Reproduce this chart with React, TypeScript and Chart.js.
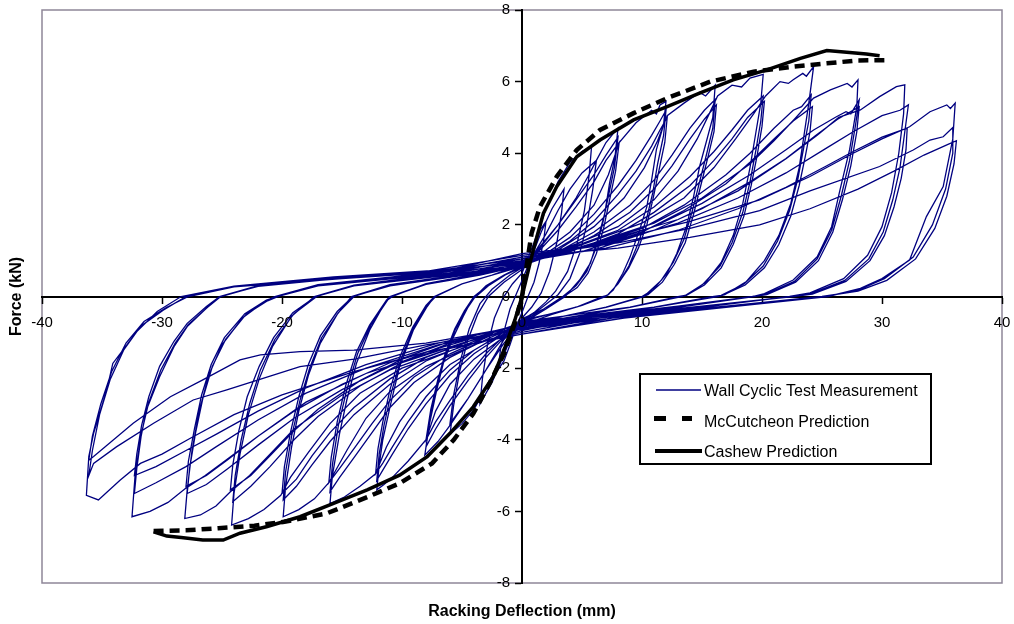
import React, { useEffect, useRef } from "react";
import { Chart, registerables } from "chart.js";

Chart.register(...registerables);

type Pt = [number, number];

// ---- axis ticks ----
const xTickValues = [-40, -30, -20, -10, 0, 10, 20, 30, 40];
const yTickValues = [-8, -6, -4, -2, 0, 2, 4, 6, 8];

const legendLabels = ["Wall Cyclic Test Measurement", "McCutcheon Prediction", "Cashew Prediction"];
const xTitle = "Racking Deflection (mm)";
const yTitle = "Force (kN)";

// ---- Wall cyclic test measurement (deflection mm, force kN), grouped by amplitude ----
const wallLoop02: Pt[] = [[0,0],[0.5,0.75],[1,1.35],[1.5,1.85],[2,2.1],[1.8,1.55],[1.4,0.9],[1,0.4],[0.5,0],[0,-0.45],[-0.5,-0.85],[-1,-1.35],[-1.5,-1.8],[-2,-2.05],[-1.8,-1.5],[-1.4,-0.85],[-1,-0.35],[-0.5,0.05],[0,0.45]];

const wallLoop04: Pt[] = [[0.8,1.1],[1.6,1.8],[2.5,2.45],[3.5,3.0],[3.3,2.35],[2.9,1.5],[2.3,0.7],[1.6,0.1],[0.8,-0.3],[0,-0.6],[-0.8,-1.05],[-1.6,-1.7],[-2.5,-2.4],[-3.5,-3.0],[-3.3,-2.3],[-2.9,-1.4],[-2.3,-0.6],[-1.6,-0.05],[-0.8,0.35],[0,0.65]];

const wallLoop06: Pt[] = [
  [1,1.5],[2,2.45],[3,3.2],[4,3.75],[5,4.05],[5.8,4.2],[5.6,3.4],[5.2,2.4],[4.6,1.5],[3.8,0.7],[2.8,0.15],[2,-0.15],[1,-0.45],[0,-0.7],[-1,-1.2],[-2,-1.9],[-3,-2.55],[-4,-3.15],[-5,-3.55],[-6,-3.85],[-5.7,-3.05],[-5.2,-2.1],[-4.5,-1.2],[-3.7,-0.5],[-2.8,0],[-1.5,0.4],[0,0.75],
  [1,1.2],[2,1.75],[3,2.4],[4,3.0],[5,3.45],[6.2,3.8],[5.9,3.0],[5.4,2.0],[4.8,1.2],[4,0.5],[3,0.05],[1.5,-0.35],[0,-0.65],[-1.5,-1.2],[-3,-2.05],[-4.5,-2.85],[-6,-3.55],[-5.7,-2.75],[-5.1,-1.75],[-4.4,-0.9],[-3.5,-0.2],[-2.5,0.2],[-1,0.6],[0,0.8],
];

const wallLoop08: Pt[] = [
  [1.5,1.35],[3,2.0],[4.5,2.75],[5.5,3.35],[6.2,3.8],[7,4.3],[7.6,4.55],[8,4.7],[7.75,3.9],[7.3,3.17],[6.9,2.33],[6.3,1.58],[5.7,0.93],[4.8,0.46],[3.6,0],[2,-0.35],[0,-0.75],[-1.5,-1.3],[-3,-2.05],[-4.5,-2.85],[-6,-3.6],[-7,-4.05],[-8.1,-4.43],[-7.7,-3.54],[-7.1,-2.6],[-6.56,-1.87],[-5.7,-1.12],[-4.9,-0.56],[-4.2,-0.1],[-3,0.3],[-1.5,0.6],[0,0.85],
  [1.5,1.4],[3,2.0],[4.5,2.7],[6,3.4],[7,3.95],[8,4.45],[7.7,3.6],[7.2,2.8],[6.7,2.0],[6.1,1.3],[5.4,0.7],[4.5,0.3],[3.4,0],[1.8,-0.35],[0,-0.7],[-1.5,-1.15],[-3,-1.7],[-4.5,-2.35],[-6,-3.05],[-7.2,-3.7],[-8,-4.2],[-7.6,-3.3],[-7,-2.4],[-6.4,-1.65],[-5.6,-0.95],[-4.8,-0.45],[-4,-0.05],[-2.8,0.3],[-1.4,0.6],[0,0.82],
  [1.5,1.3],[3,1.85],[4.5,2.5],[6,3.2],[7,3.8],[8.1,4.3],[7.8,3.5],[7.3,2.7],[6.8,1.9],[6.2,1.2],[5.5,0.65],[4.6,0.25],[3.5,0],[1.8,-0.35],[0,-0.62],[-1.5,-1.1],[-3,-1.6],[-4.5,-2.2],[-6,-2.9],[-7.2,-3.5],[-8,-4.0],[-7.6,-3.15],[-7,-2.3],[-6.4,-1.6],[-5.6,-0.9],[-4.8,-0.4],[-4,0],[-2.8,0.32],[-1.4,0.6],[0,0.85],
];

const wallLoop12: Pt[] = [
  [2,1.3],[4,1.8],[6,2.55],[7.2,3.4],[8.1,4.3],[9.5,4.85],[10.8,5.2],[11.2,5.1],[11.5,5.35],[12,5.45],[11.8,4.8],[11.2,4.1],[10.8,3.25],[10.4,2.5],[9.8,1.86],[9,1.1],[8.4,0.65],[7.6,0.18],[7,0],[5,-0.25],[2.5,-0.5],[0,-0.8],[-2,-1.25],[-4,-1.75],[-6,-2.45],[-7.2,-3.2],[-8,-4.0],[-9.5,-4.6],[-10.8,-5.05],[-11.5,-5.25],[-12.1,-5.4],[-11.9,-4.7],[-11.6,-4.0],[-11,-3.08],[-10.2,-1.96],[-9.06,-0.94],[-7.9,-0.28],[-7.3,0],[-5,0.35],[-2.5,0.6],[0,0.88],
  [2,1.2],[4,1.65],[6,2.3],[8,3.1],[9.5,3.8],[10.8,4.5],[11.5,4.9],[12,5.2],[11.8,4.5],[11.3,3.7],[10.9,2.9],[10.4,2.2],[9.7,1.5],[8.9,0.85],[8.1,0.4],[7.2,0.05],[6.8,0],[4.5,-0.3],[2.2,-0.5],[0,-0.7],[-2,-1.15],[-4,-1.6],[-6,-2.2],[-8,-3.0],[-9.5,-3.7],[-10.8,-4.4],[-11.6,-4.85],[-12.1,-5.13],[-11.9,-4.4],[-11.5,-3.6],[-10.9,-2.7],[-10.1,-1.75],[-9,-0.85],[-7.9,-0.25],[-7.2,0],[-5,0.35],[-2.5,0.6],[0,0.84],
  [2,1.15],[4,1.55],[6,2.1],[8,2.85],[9.5,3.5],[10.8,4.2],[11.5,4.65],[12.1,5.0],[11.9,4.3],[11.4,3.5],[10.9,2.7],[10.4,2.0],[9.7,1.35],[8.9,0.8],[8,0.35],[7.1,0.03],[6.7,0],[4.5,-0.3],[2.2,-0.5],[0,-0.66],[-2,-1.1],[-4,-1.5],[-6,-2.05],[-8,-2.8],[-9.5,-3.5],[-10.8,-4.2],[-11.6,-4.65],[-12.2,-4.95],[-12,-4.25],[-11.6,-3.5],[-11,-2.6],[-10.2,-1.7],[-9.1,-0.85],[-8,-0.25],[-7.3,0],[-5,0.35],[-2.5,0.6],[0,0.9],
];

const wallLoop16: Pt[] = [
  [3,1.3],[6,1.95],[8.5,2.75],[10.2,3.6],[11.3,4.35],[12.1,5.05],[13.5,5.4],[14.8,5.7],[15.3,5.6],[16.1,5.9],[15.9,5.0],[15.4,4.37],[14.8,3.63],[14.3,2.79],[13.7,1.95],[12.9,1.2],[12.1,0.65],[10.9,0.18],[10.2,0],[7,-0.3],[3.5,-0.55],[0,-0.85],[-3,-1.3],[-6,-1.9],[-8.5,-2.7],[-10.2,-3.5],[-11.3,-4.2],[-12.2,-4.95],[-13.5,-5.3],[-14.8,-5.6],[-16,-5.78],[-15.8,-5.0],[-15.2,-3.82],[-14.6,-2.89],[-13.8,-1.87],[-12.7,-0.94],[-11.3,-0.1],[-11,0],[-8,0.35],[-3.5,0.62],[0,0.9],
  [3,1.25],[6,1.8],[9,2.55],[11,3.25],[12.5,3.95],[14,4.7],[15.2,5.2],[16.1,5.5],[15.9,4.7],[15.4,4.0],[14.8,3.2],[14.2,2.4],[13.5,1.6],[12.6,0.95],[11.6,0.45],[10.4,0.08],[10,0],[7,-0.3],[3.5,-0.55],[0,-0.76],[-3,-1.2],[-6,-1.7],[-9,-2.4],[-11,-3.1],[-12.5,-3.8],[-14,-4.5],[-15.2,-5.05],[-16,-5.45],[-15.8,-4.7],[-15.3,-3.6],[-14.6,-2.6],[-13.7,-1.6],[-12.6,-0.8],[-11.2,-0.1],[-10.8,0],[-8,0.36],[-3.5,0.64],[0,0.95],
  [3,1.2],[6,1.7],[9,2.35],[11,3.0],[12.5,3.65],[14,4.4],[15.2,4.95],[16.2,5.35],[16,4.6],[15.5,3.9],[14.9,3.1],[14.3,2.3],[13.6,1.5],[12.7,0.9],[11.7,0.4],[10.5,0.05],[10.1,0],[7,-0.3],[3.5,-0.55],[0,-0.7],[-3,-1.15],[-6,-1.6],[-9,-2.25],[-11,-2.9],[-12.5,-3.55],[-14,-4.25],[-15.2,-4.8],[-16.1,-5.2],[-15.9,-4.5],[-15.4,-3.5],[-14.7,-2.5],[-13.8,-1.55],[-12.7,-0.8],[-11.3,-0.1],[-10.9,0],[-8,0.34],[-3.5,0.6],[0,0.86],
];

const wallLoop20: Pt[] = [
  [4,1.4],[8,1.95],[11,2.7],[13,3.5],[14.6,4.4],[15.6,5.1],[16.3,5.6],[17.5,5.9],[18.3,5.85],[19,6.1],[20.1,6.2],[19.9,5.4],[19.5,4.6],[19,3.6],[18.4,2.6],[17.6,1.7],[16.6,0.95],[15.3,0.4],[13.8,0.05],[13.3,0],[9,-0.3],[4.5,-0.55],[0,-0.9],[-4,-1.35],[-8,-1.95],[-11,-2.65],[-13,-3.4],[-14.6,-4.3],[-16.1,-5.2],[-17.3,-5.65],[-18.6,-5.95],[-19.9,-6.15],[-19.7,-5.3],[-19.2,-4.2],[-18.6,-3.2],[-17.8,-2.2],[-16.8,-1.3],[-15.4,-0.5],[-14.2,0],[-11,0.33],[-5,0.62],[0,1.0],
  [4,1.35],[8,1.85],[11,2.5],[14,3.35],[16,4.05],[17.5,4.65],[18.8,5.2],[20.1,5.6],[19.9,4.9],[19.5,4.1],[19,3.2],[18.4,2.35],[17.5,1.5],[16.5,0.85],[15.1,0.35],[13.6,0.03],[13.1,0],[9,-0.3],[4.5,-0.55],[0,-0.8],[-4,-1.25],[-8,-1.8],[-11,-2.45],[-14,-3.3],[-16,-4.05],[-17.5,-4.7],[-18.8,-5.3],[-19.9,-5.68],[-19.7,-4.9],[-19.2,-3.9],[-18.5,-2.9],[-17.7,-2.0],[-16.7,-1.15],[-15.3,-0.45],[-14,0],[-11,0.32],[-5,0.6],[0,0.92],
  [4,1.25],[8,1.75],[11,2.35],[14,3.1],[16,3.8],[17.5,4.4],[18.8,5.0],[20.2,5.45],[20,4.75],[19.6,3.95],[19.1,3.1],[18.5,2.25],[17.6,1.45],[16.6,0.8],[15.2,0.32],[13.7,0.03],[13.2,0],[9,-0.3],[4.5,-0.5],[0,-0.72],[-4,-1.2],[-8,-1.7],[-11,-2.3],[-14,-3.1],[-16,-3.8],[-17.5,-4.45],[-18.8,-5.1],[-20,-5.5],[-19.8,-4.75],[-19.3,-3.8],[-18.6,-2.8],[-17.8,-1.9],[-16.8,-1.1],[-15.4,-0.42],[-14.1,0],[-11,0.3],[-5,0.58],[0,0.86],
];

const wallLoop24: Pt[] = [
  [5,1.45],[10,2.05],[13.5,2.75],[16,3.6],[17.8,4.4],[19.3,5.1],[20.3,5.6],[21.5,6.0],[22.2,5.95],[22.6,6.05],[23.4,6.23],[23.7,6.15],[24.3,6.42],[23.9,5.4],[23.5,4.5],[23.1,3.6],[22.4,2.6],[21.4,1.7],[20.2,1.0],[18.7,0.42],[16.9,0.05],[16.3,0],[11,-0.3],[5.5,-0.58],[0,-0.95],[-5,-1.4],[-10,-2.0],[-13.5,-2.7],[-16,-3.55],[-17.8,-4.35],[-19.3,-5.05],[-20.1,-5.55],[-21.5,-5.95],[-22.8,-6.2],[-24.2,-6.38],[-24,-5.5],[-23.5,-4.4],[-22.8,-3.3],[-21.9,-2.3],[-20.8,-1.4],[-19.2,-0.55],[-17.3,0],[-14,0.32],[-6,0.66],[0,1.05],
  [5,1.35],[10,1.9],[13.5,2.55],[17,3.4],[19,4.0],[21,4.7],[22.6,5.2],[23.3,5.3],[24.1,5.63],[23.9,4.9],[23.5,4.2],[23,3.3],[22.3,2.4],[21.3,1.55],[20.1,0.85],[18.5,0.35],[16.6,0.03],[16,0],[11,-0.3],[5.5,-0.55],[0,-0.85],[-5,-1.3],[-10,-1.85],[-13.5,-2.5],[-17,-3.35],[-19,-4.0],[-21,-4.75],[-22.6,-5.3],[-24.1,-5.73],[-23.9,-5.0],[-23.4,-4.0],[-22.7,-3.0],[-21.8,-2.05],[-20.6,-1.2],[-19,-0.48],[-17.1,0],[-14,0.31],[-6,0.63],[0,0.97],
  [5,1.25],[10,1.8],[13.5,2.4],[17,3.15],[19,3.75],[21,4.4],[22.6,4.9],[24.2,5.3],[24,4.6],[23.6,3.9],[23.1,3.1],[22.4,2.25],[21.4,1.45],[20.2,0.8],[18.6,0.32],[16.7,0.03],[16.1,0],[11,-0.3],[5.5,-0.52],[0,-0.75],[-5,-1.25],[-10,-1.75],[-13.5,-2.35],[-17,-3.15],[-19,-3.75],[-21,-4.45],[-22.6,-5.0],[-24.3,-5.4],[-24.1,-4.7],[-23.6,-3.75],[-22.9,-2.8],[-21.9,-1.95],[-20.7,-1.15],[-19.1,-0.45],[-17.2,0],[-14,0.3],[-6,0.6],[0,0.9],
];

const wallLoop28: Pt[] = [
  [6,1.5],[11,2.05],[15,2.75],[19,3.7],[21,4.35],[22.7,4.95],[24.3,5.54],[25.7,5.77],[27.1,5.95],[27.5,5.85],[28,6.05],[27.9,5.3],[27.3,4.1],[26.5,2.98],[25.8,1.95],[24.6,1.11],[22.6,0.46],[20.2,0.08],[19.3,0],[13,-0.3],[6.5,-0.6],[0,-1.0],[-6,-1.45],[-11,-2.05],[-15,-2.75],[-19,-3.7],[-21,-4.4],[-22.7,-5.0],[-24.3,-5.45],[-25.5,-5.85],[-26.8,-6.1],[-28.1,-6.2],[-27.9,-5.4],[-27.5,-4.3],[-26.9,-3.2],[-26.1,-2.2],[-25,-1.35],[-23.3,-0.6],[-21.5,-0.15],[-20.6,0],[-17,0.33],[-7,0.68],[0,1.1],
  [6,1.4],[11,1.95],[15,2.6],[19,3.4],[22,4.1],[24.3,4.65],[26.2,5.02],[27,5.16],[27.4,5.1],[28.1,5.49],[27.8,4.8],[27.3,3.8],[26.6,2.8],[25.8,1.85],[24.6,1.05],[22.7,0.42],[20.3,0.06],[19.2,0],[13,-0.28],[6.5,-0.55],[0,-0.88],[-6,-1.3],[-11,-1.95],[-15,-2.6],[-19,-3.4],[-22,-4.15],[-24.5,-4.8],[-26.3,-5.25],[-27.9,-5.5],[-27.7,-4.8],[-27.2,-3.8],[-26.6,-2.85],[-25.8,-1.95],[-24.7,-1.2],[-23,-0.5],[-21.2,-0.12],[-20.3,0],[-17,0.32],[-7,0.65],[0,1.0],
  [6,1.3],[11,1.85],[15,2.45],[19,3.2],[22,3.85],[24.5,4.5],[26.3,4.95],[28.1,5.3],[27.9,4.6],[27.4,3.65],[26.7,2.7],[25.9,1.8],[24.7,1.0],[22.8,0.4],[20.4,0.05],[19.3,0],[13,-0.27],[6.5,-0.52],[0,-0.78],[-6,-1.25],[-11,-1.85],[-15,-2.45],[-19,-3.2],[-22,-3.9],[-24.5,-4.55],[-26.3,-5.0],[-28,-5.3],[-27.8,-4.6],[-27.3,-3.7],[-26.7,-2.75],[-25.9,-1.9],[-24.8,-1.15],[-23.1,-0.48],[-21.3,-0.1],[-20.4,0],[-17,0.3],[-7,0.62],[0,0.93],
];

const wallLoop32: Pt[] = [
  [7,1.55],[13,2.15],[18,2.95],[22,3.85],[24.6,4.5],[26.4,5.0],[28.2,5.21],[29.8,5.58],[31.2,5.86],[31.9,5.91],[31.8,5.1],[31.4,4.0],[30.8,2.9],[30,1.95],[28.8,1.15],[26.8,0.5],[24,0.1],[22.3,0],[15,-0.3],[7.5,-0.6],[0,-1.05],[-7,-1.5],[-13,-2.15],[-18,-2.95],[-22,-3.9],[-24.6,-4.55],[-26.4,-5.0],[-28,-5.35],[-29.5,-5.75],[-31,-6.0],[-32.5,-6.15],[-32.25,-5.03],[-31.8,-4.0],[-31.3,-3.17],[-30.2,-2.24],[-29,-1.4],[-27.9,-0.84],[-26.3,-0.33],[-25.2,0],[-22,0.3],[-16,0.52],[-8,0.7],[0,1.15],
  [7,1.45],[13,2.05],[18,2.75],[22,3.45],[25.4,4.15],[27.6,4.6],[30,5.05],[31.5,5.2],[32.2,5.35],[31.9,4.6],[31.5,3.6],[30.9,2.7],[30.1,1.8],[28.9,1.05],[26.9,0.45],[24.1,0.08],[22.5,0],[15,-0.28],[7.5,-0.55],[0,-0.9],[-7,-1.35],[-13,-2.0],[-18,-2.7],[-22,-3.45],[-25.5,-4.2],[-28,-4.75],[-30.5,-5.2],[-32.3,-5.5],[-32.1,-4.8],[-31.7,-3.8],[-31.1,-2.95],[-30.1,-2.05],[-28.9,-1.3],[-27.8,-0.78],[-26.2,-0.3],[-25.1,0],[-22,0.29],[-16,0.5],[-8,0.68],[0,1.05],
  [7,1.35],[13,1.85],[18,2.45],[22,3.05],[25.4,3.65],[27.6,4.05],[30,4.45],[32.1,4.7],[32,4.1],[31.6,3.3],[31,2.5],[30.2,1.7],[29,1.0],[27,0.42],[24.2,0.07],[22.6,0],[15,-0.27],[7.5,-0.52],[0,-0.8],[-7,-1.3],[-13,-1.9],[-18,-2.55],[-22,-3.2],[-25.5,-3.85],[-28,-4.3],[-30.5,-4.75],[-32.3,-5.0],[-32.1,-4.4],[-31.7,-3.6],[-31.1,-2.8],[-30.2,-1.95],[-29,-1.25],[-27.9,-0.75],[-26.3,-0.28],[-25.2,0],[-22,0.28],[-16,0.48],[-8,0.66],[0,0.97],
];

const wallLoop36: Pt[] = [
  [8,1.6],[14,2.1],[19.8,2.7],[24,3.35],[27.6,4.0],[30,4.4],[32.3,4.74],[34,5.16],[35.4,5.35],[35.7,5.25],[36.1,5.4],[35.9,4.4],[35.1,3.07],[33.7,2.23],[32.3,1.02],[30,0.5],[28.2,0.23],[25.5,0],[17,-0.3],[8.5,-0.6],[0,-1.05],[-8,-1.55],[-14,-2.1],[-20,-2.75],[-24,-3.3],[-27.6,-3.95],[-30,-4.4],[-31.8,-4.66],[-33.5,-5.13],[-35.3,-5.68],[-36.3,-5.55],[-36.1,-4.47],[-35.7,-3.82],[-34.6,-2.6],[-34.1,-1.87],[-32.1,-0.98],[-30.4,-0.42],[-28.4,0],[-24,0.29],[-15.7,0.55],[-6,0.76],[0,1.2],
  [8,1.5],[14,1.9],[19.8,2.4],[24,2.95],[29.8,3.63],[32.6,4.09],[34,4.37],[35.1,4.46],[35.9,4.72],[35.9,4.0],[35.3,3.0],[34.2,2.0],[32.6,1.1],[30.2,0.5],[28,0.18],[25.3,0],[17,-0.28],[8.5,-0.56],[0,-0.92],[-8,-1.35],[-14,-1.75],[-18.5,-1.96],[-24.6,-2.61],[-27.4,-2.89],[-30.7,-3.54],[-33.8,-4.2],[-35.7,-4.66],[-36.1,-5.0],[-35.8,-4.3],[-35.2,-3.3],[-34.3,-2.3],[-33.2,-1.5],[-31.8,-0.84],[-29.9,-0.38],[-28,0],[-24,0.28],[-15,0.53],[-6,0.73],[0,1.1],
  [8,1.35],[14,1.65],[19.8,2.0],[24,2.45],[28,3.0],[31,3.5],[33.5,3.95],[35.5,4.25],[36.2,4.35],[36,3.7],[35.4,2.8],[34.4,1.9],[32.8,1.05],[30.4,0.45],[28,0.15],[25,0],[17,-0.27],[8.5,-0.53],[0,-0.82],[-8,-1.3],[-14,-1.5],[-18.5,-1.54],[-21.8,-1.63],[-23.5,-1.77],[-26.6,-2.33],[-29.3,-2.8],[-32.4,-3.54],[-35.7,-4.47],[-36.1,-4.57],[-35.8,-3.9],[-35.1,-3.0],[-34.2,-2.1],[-33,-1.3],[-31.5,-0.7],[-29.6,-0.3],[-27.8,0],[-24,0.27],[-15,0.5],[-6,0.7],[0,1.0],
];

// ---- Predictions ----
const mcCutcheon: Pt[] = [[-30.7,-6.55],[-28,-6.53],[-25.3,-6.47],[-22.3,-6.4],[-19.8,-6.29],[-16.3,-6.06],[-12.9,-5.6],[-10.2,-5.22],[-7.5,-4.66],[-5.7,-4.01],[-4.06,-3.27],[-2.7,-2.43],[-1.5,-1.6],[-0.6,-0.75],[0,0],[0.8,1.77],[1.5,2.51],[2.9,3.35],[4.56,4.09],[6.5,4.65],[9.3,5.12],[12.1,5.54],[15.7,6.0],[19.3,6.28],[22.6,6.42],[25.4,6.51],[27.9,6.59],[30.25,6.6]];

const cashew: Pt[] = [[-30.7,-6.57],[-29.6,-6.69],[-28.4,-6.73],[-26.6,-6.8],[-24.9,-6.8],[-23.5,-6.61],[-21.3,-6.43],[-18.5,-6.15],[-15.7,-5.78],[-12.9,-5.4],[-10.2,-4.99],[-7.9,-4.47],[-6,-3.82],[-4.06,-3.08],[-2.4,-2.24],[-1.4,-1.4],[-0.6,-0.66],[0,0],[0.94,1.3],[1.78,2.32],[2.9,3.07],[4.56,3.9],[6.5,4.37],[9.3,4.93],[12.1,5.3],[14.8,5.68],[17.6,6.05],[20.4,6.33],[23.2,6.65],[25.4,6.87],[27.3,6.81],[28.7,6.77],[29.8,6.72]];

const wallSeries: Pt[] = [
  ...wallLoop02, ...wallLoop04, ...wallLoop06, ...wallLoop08, ...wallLoop12, ...wallLoop16,
  ...wallLoop20, ...wallLoop24, ...wallLoop28, ...wallLoop32, ...wallLoop36,
];

const toXY = (pts: Pt[]) => pts.map(([x, y]) => ({ x, y }));

const FONT = "'Liberation Sans', Arial, Helvetica, sans-serif";
const NAVY = "#000080";

const decorPlugin = {
  id: "decor",
  beforeDraw(chart: any) {
    const { ctx, chartArea: a } = chart;
    ctx.save();
    ctx.fillStyle = "#ffffff";
    ctx.fillRect(0, 0, chart.width, chart.height);
    ctx.strokeStyle = "#8e8698";
    ctx.lineWidth = 1.5;
    ctx.strokeRect(a.left, a.top, a.right - a.left, a.bottom - a.top);
    ctx.restore();
  },
  afterDraw(chart: any) {
    const { ctx, chartArea: a } = chart;
    const xs = chart.scales.x;
    const ys = chart.scales.y;
    const x0 = xs.getPixelForValue(0);
    const y0 = ys.getPixelForValue(0);
    ctx.save();
    ctx.fillStyle = "#000";

    // tick labels
    ctx.font = `15px ${FONT}`;
    ctx.textAlign = "center";
    ctx.textBaseline = "middle";
    xTickValues.forEach((v) => ctx.fillText(String(v), xs.getPixelForValue(v), y0 + 26));
    ctx.textAlign = "right";
    yTickValues.forEach((v) => ctx.fillText(String(v), x0 - 12, ys.getPixelForValue(v)));

    // axis titles
    ctx.font = `bold 16px ${FONT}`;
    ctx.textAlign = "center";
    ctx.fillText(xTitle, (a.left + a.right) / 2, a.bottom + 29);
    ctx.save();
    ctx.translate(17, (a.top + a.bottom) / 2);
    ctx.rotate(-Math.PI / 2);
    ctx.fillText(yTitle, 0, 0);
    ctx.restore();

    // legend box
    const lx = 640;
    const ly = 374;
    const lw = 291;
    const lh = 90;
    ctx.fillStyle = "#fff";
    ctx.fillRect(lx, ly, lw, lh);
    ctx.strokeStyle = "#000";
    ctx.lineWidth = 2;
    ctx.strokeRect(lx, ly, lw, lh);

    ctx.font = `16px ${FONT}`;
    ctx.textAlign = "left";
    ctx.fillStyle = "#000";
    const tx = lx + 64;
    ctx.strokeStyle = NAVY;
    ctx.lineWidth = 1.5;
    ctx.beginPath();
    ctx.moveTo(lx + 16, ly + 16);
    ctx.lineTo(lx + 61, ly + 16);
    ctx.stroke();
    ctx.fillText(legendLabels[0], tx, ly + 18);
    ctx.fillRect(lx + 14, ly + 42, 12, 5);
    ctx.fillRect(lx + 42, ly + 42, 10, 5);
    ctx.fillText(legendLabels[1], tx, ly + 49);
    ctx.strokeStyle = "#000";
    ctx.lineWidth = 4;
    ctx.beginPath();
    ctx.moveTo(lx + 15, ly + 77);
    ctx.lineTo(lx + 62, ly + 77);
    ctx.stroke();
    ctx.fillText(legendLabels[2], tx, ly + 79);
    ctx.restore();
  },
};

export default function App() {
  const ref = useRef<HTMLCanvasElement | null>(null);

  useEffect(() => {
    document.body.style.margin = "0";
    const canvas = ref.current;
    if (!canvas) return;
    const chart = new Chart(canvas, {
      type: "scatter",
      data: {
        datasets: [
          {
            label: legendLabels[2],
            data: toXY(cashew),
            showLine: true,
            borderColor: "#000",
            borderWidth: 3.5,
            pointRadius: 0,
            order: 0,
          },
          {
            label: legendLabels[1],
            data: toXY(mcCutcheon),
            showLine: true,
            borderColor: "#000",
            borderWidth: 4.5,
            borderDash: [10, 6],
            pointRadius: 0,
            order: 1,
          },
          {
            label: legendLabels[0],
            data: toXY(wallSeries),
            showLine: true,
            borderColor: NAVY,
            borderWidth: 1.3,
            pointRadius: 0,
            order: 2,
          },
        ],
      },
      options: {
        responsive: false,
        animation: false,
        devicePixelRatio: 1,
        layout: { padding: { left: 42, right: 12, top: 10, bottom: 41 } },
        plugins: { legend: { display: false }, tooltip: { enabled: false } },
        scales: {
          x: {
            type: "linear",
            min: -40,
            max: 40,
            position: { y: 0 } as any,
            afterBuildTicks: (s: any) => { s.ticks = xTickValues.map((v) => ({ value: v })); },
            ticks: { display: false },
            grid: { drawOnChartArea: false, drawTicks: true, tickLength: 6, tickColor: "#000", tickWidth: 1.5 },
            border: { display: true, color: "#000", width: 2 },
          },
          y: {
            type: "linear",
            min: -8,
            max: 8,
            position: { x: 0 } as any,
            afterBuildTicks: (s: any) => { s.ticks = yTickValues.map((v) => ({ value: v })); },
            ticks: { display: false },
            grid: { drawOnChartArea: false, drawTicks: true, tickLength: 6, tickColor: "#000", tickWidth: 1.5 },
            border: { display: true, color: "#000", width: 2 },
          },
        },
      },
      plugins: [decorPlugin],
    });
    return () => chart.destroy();
  }, []);

  return <canvas ref={ref} width={1014} height={624} style={{ display: "block" }} />;
}
